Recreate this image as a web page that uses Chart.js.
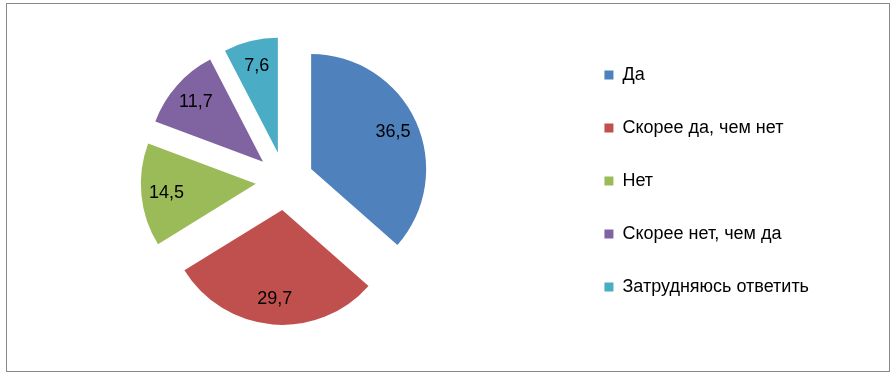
<!DOCTYPE html>
<html lang="ru">
<head>
    <meta charset="UTF-8">
    <title>Опрос</title>
    <script src="https://cdn.jsdelivr.net/npm/chart.js"></script>
    <style>
        html, body { margin: 0; padding: 0; background: #fff; }
        #wrap { position: relative; width: 896px; height: 376px; }
        #frame { position: absolute; left: 6px; top: 3px; width: 882px; height: 367px; border: 1px solid #888; pointer-events: none; }
    </style>
</head>
<body>
    <div id="wrap">
        <canvas id="pieChart" width="896" height="376"></canvas>
        <div id="frame"></div>
    </div>

    <script>
        // answers and shares, %
        const labels = ['Да', 'Скорее да, чем нет', 'Нет', 'Скорее нет, чем да', 'Затрудняюсь ответить'];
        const values = [36.5, 29.7, 14.5, 11.7, 7.6];
        const colors = ['#4F81BD', '#C0504D', '#9BBB59', '#8064A2', '#4BACC6'];

        const EXPLODE = 29;

        // pull every slice out along its middle angle
        const explodePlugin = {
            id: 'explode',
            afterDatasetUpdate(chart, args) {
                args.meta.data.forEach(arc => {
                    const mid = (arc.startAngle + arc.endAngle) / 2;
                    arc.x += Math.cos(mid) * EXPLODE;
                    arc.y += Math.sin(mid) * EXPLODE;
                });
            }
        };

        // value labels inside the slices
        const valueLabels = {
            id: 'valueLabels',
            afterDatasetsDraw(chart) {
                const ctx = chart.ctx;
                const meta = chart.getDatasetMeta(0);
                ctx.save();
                ctx.font = '18px "Liberation Sans", Arial, sans-serif';
                ctx.fillStyle = '#000';
                ctx.textAlign = 'center';
                ctx.textBaseline = 'middle';
                meta.data.forEach((arc, i) => {
                    const mid = (arc.startAngle + arc.endAngle) / 2;
                    const r = arc.outerRadius * 0.78;
                    const text = values[i].toFixed(1).replace('.', ',');
                    ctx.fillText(text, arc.x + Math.cos(mid) * r, arc.y + Math.sin(mid) * r);
                });
                ctx.restore();
            }
        };

        new Chart(document.getElementById('pieChart'), {
            type: 'pie',
            data: {
                labels: labels,
                datasets: [{
                    data: values,
                    backgroundColor: colors,
                    borderWidth: 0
                }]
            },
            options: {
                responsive: false,
                animation: false,
                radius: 115,
                layout: { padding: { left: 0, right: 77, top: 0, bottom: 14 } },
                plugins: {
                    legend: {
                        position: 'right',
                        labels: {
                            boxWidth: 9,
                            boxHeight: 9,
                            padding: 35,
                            color: '#000',
                            font: { family: '"Liberation Sans", Arial, sans-serif', size: 18 }
                        }
                    },
                    tooltip: { enabled: false }
                }
            },
            plugins: [explodePlugin, valueLabels]
        });
    </script>
</body>
</html>
